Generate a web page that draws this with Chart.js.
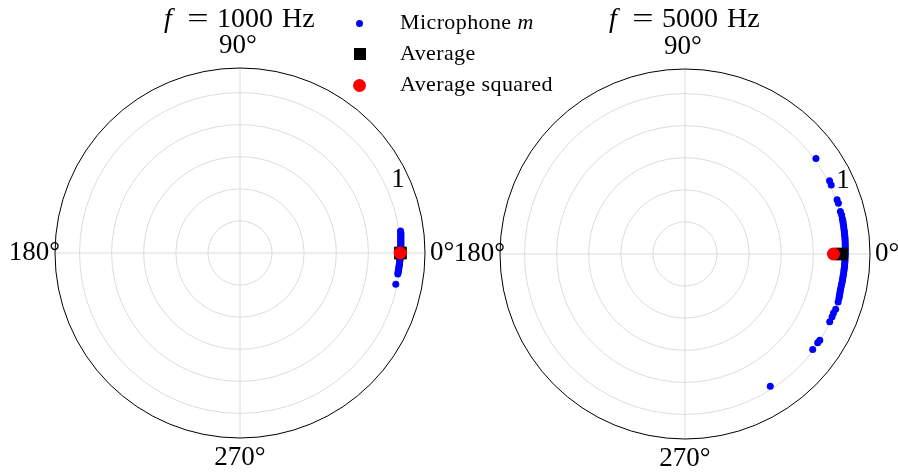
<!DOCTYPE html>
<html lang="en">
<head>
    <meta charset="UTF-8">
    <title>Microphone directivity, polar</title>
    <script src="https://cdn.jsdelivr.net/npm/chart.js@4.4.1/dist/chart.umd.min.js"></script>
    <style>
        body { margin: 0; background: #fff; }
        .fig { position: relative; width: 898px; height: 475px; overflow: hidden; font-family: "Liberation Serif", serif; }
        canvas { position: absolute; top: 0; }
        #left { left: 0; }
        #right { left: 440px; }
        .legend-marker { position: absolute; }
        .legend-text { position: absolute; left: 400px; font-size: 22px; line-height: 22px; letter-spacing: 0.4px; color: #000; white-space: nowrap; }
    </style>
</head>
<body>
<div class="fig">
    <canvas id="left" width="470" height="475"></canvas>
    <canvas id="right" width="458" height="475"></canvas>

    <div class="legend-marker" style="left:356px;top:20px;width:7px;height:7px;border-radius:50%;background:#0000ff;"></div>
    <div class="legend-text" style="top:11px;">Microphone <i>m</i></div>
    <div class="legend-marker" style="left:354px;top:48px;width:12px;height:12px;background:#000;"></div>
    <div class="legend-text" style="top:42px;">Average</div>
    <div class="legend-marker" style="left:353px;top:79px;width:13px;height:13px;border-radius:50%;background:#ff0000;"></div>
    <div class="legend-text" style="top:73px;">Average squared</div>
</div>
<script>
    // frequencies of the two panels
    const FREQS = [1000, 5000];

    // microphone responses, angle in degrees and magnitude
    const MIC_1000_ANGLE = [7.8, 7.3, 6.8, 6.3, 5.8, 5.3, 4.8, 4.4, 3.9, 3.4, 3.0, 2.5, 2.0, 1.6, 1.1, 0.6, 0.2, -0.3, -0.8, -1.2,
        -1.7, -2.2, -2.6, -3.1, -3.6, -4.1, -4.5, -5.0, -5.5, -6.0, -6.5, -7.0, -7.6, -11.3];
    const MIC_1000_R = [1.01, 1.01, 1.01, 1.008, 1.008, 1.006, 1.006, 1.005, 1.005, 1.004, 1.004, 1.003, 1.003, 1.002, 1.002, 1.001, 1.0, 1.0, 0.999, 0.999,
        0.998, 0.998, 0.997, 0.997, 0.996, 0.996, 0.995, 0.995, 0.994, 0.994, 0.993, 0.993, 0.992, 0.99];

    const MIC_5000_ANGLE = [36.1, 26.9, 25.3, 19.6, 18.3, 15.3, 14.0, 12.6, 11.7, 10.9, 10.1, 9.3, 8.5, 7.8, 7.0, 6.3, 5.5, 4.8, 4.0, 3.3,
        2.6, 1.8, 1.1, 0.4, -0.4, -1.1, -1.8, -2.6, -3.3, -4.0, -4.8, -5.5, -6.2, -7.0, -7.7, -8.5, -9.2, -10.0, -10.7, -11.5,
        -12.3, -13.0, -13.8, -14.5, -15.2, -16.0, -17.4, -20.1, -21.7, -23.1, -25.1, -32.6, -33.8, -36.8, -57.2];
    const MIC_5000_R = [1.01, 1.01, 1.008, 1.006, 1.007, 1.004, 1.006, 1.005, 1.005, 1.004, 1.004, 1.003, 1.003, 1.003, 1.002, 1.002, 1.002, 1.001, 1.001, 1.0,
        1.0, 1.0, 0.999, 0.999, 0.999, 0.998, 0.998, 0.998, 0.997, 0.997, 0.997, 0.996, 0.996, 0.996, 0.995, 0.995, 0.995, 0.995, 0.994, 0.994,
        0.994, 0.994, 0.995, 0.996, 0.997, 0.998, 1.0, 1.0, 0.996, 0.997, 0.996, 0.997, 0.995, 0.994, 0.981];

    // averages per panel (both at 0 deg)
    const AVG_ANGLE = [0, 0];
    const AVG_R = [1.0, 0.975];
    const AVG_SQ_R = [0.998, 0.925];

    // polar axes
    const R_MAX = 1.153;
    const RING_TICKS = [0.2, 0.4, 0.6, 0.8, 1.0];
    const RING_LABELS = ['', '', '', '', '1'];
    const THETA_TICKS = [0, 90, 180, 270];
    const THETA_LABELS = ['0°', '90°', '180°', '270°'];

    const FONT = '"Liberation Serif", serif';

    function toXY(angles, radii) {
        return angles.map((a, i) => ({
            x: radii[i] * Math.cos(a * Math.PI / 180),
            y: radii[i] * Math.sin(a * Math.PI / 180)
        }));
    }

    const polarPlugin = {
        id: 'polarGrid',
        beforeDatasetsDraw(chart) {
            const ctx = chart.ctx;
            const xs = chart.scales.x, ys = chart.scales.y;
            const cx = xs.getPixelForValue(0), cy = ys.getPixelForValue(0);
            const R = xs.getPixelForValue(R_MAX) - cx;
            ctx.save();
            ctx.strokeStyle = '#dcdcdc';
            ctx.lineWidth = 1;
            RING_TICKS.forEach(r => {
                const pr = xs.getPixelForValue(r) - cx;
                ctx.beginPath();
                ctx.arc(cx, cy, pr, 0, Math.PI * 2);
                ctx.stroke();
            });
            THETA_TICKS.forEach(t => {
                const a = t * Math.PI / 180;
                ctx.beginPath();
                ctx.moveTo(cx, cy);
                ctx.lineTo(cx + R * Math.cos(a), cy - R * Math.sin(a));
                ctx.stroke();
            });
            ctx.strokeStyle = '#000';
            ctx.beginPath();
            ctx.arc(cx, cy, R, 0, Math.PI * 2);
            ctx.stroke();
            ctx.restore();
        },
        afterDraw(chart, args, opts) {
            const ctx = chart.ctx;
            const xs = chart.scales.x, ys = chart.scales.y;
            const cx = xs.getPixelForValue(0), cy = ys.getPixelForValue(0);
            const R = xs.getPixelForValue(R_MAX) - cx;
            ctx.save();
            ctx.fillStyle = '#000';
            ctx.font = '27px ' + FONT;
            ctx.textBaseline = 'middle';

            // theta labels
            ctx.textAlign = 'left';
            ctx.fillText(THETA_LABELS[0], cx + R + 5, cy);
            ctx.textAlign = 'center';
            ctx.fillText(THETA_LABELS[1], cx - 2, cy - R - 22);
            ctx.textAlign = 'right';
            ctx.fillText(THETA_LABELS[2], cx - R + 5, cy);
            ctx.textAlign = 'center';
            ctx.fillText(THETA_LABELS[3], cx, cy + R + 20);

            // radial label at 22.5 deg
            RING_TICKS.forEach((r, i) => {
                if (!RING_LABELS[i]) return;
                const pr = xs.getPixelForValue(r) - cx;
                const a = 22.5 * Math.PI / 180;
                ctx.textAlign = 'left';
                ctx.textBaseline = 'bottom';
                ctx.fillText(RING_LABELS[i], cx + pr * Math.cos(a) + 3, cy - pr * Math.sin(a) + 2);
            });

            // title  "f = 1000 Hz", spaced like math text
            ctx.textBaseline = 'alphabetic';
            ctx.textAlign = 'left';
            const base = 27;
            ctx.font = 'italic 28px ' + FONT;
            ctx.fillText('f', cx - 76, base);
            ctx.font = '28px ' + FONT;
            ctx.save();
            ctx.translate(cx - 42, base);
            ctx.scale(1.35, 1);
            ctx.textAlign = 'center';
            ctx.fillText('=', 0, 0);
            ctx.restore();
            ctx.fillText(String(opts.freq), cx - 23, base);
            ctx.fillText('Hz', cx + 42, base);
            ctx.restore();
        }
    };

    function makePolar(canvasId, idx, micAngles, micR, padding) {
        const ctx = document.getElementById(canvasId).getContext('2d');
        return new Chart(ctx, {
            type: 'scatter',
            data: {
                datasets: [
                    {
                        label: 'Average squared',
                        data: toXY([AVG_ANGLE[idx]], [AVG_SQ_R[idx]]),
                        backgroundColor: '#ff0000',
                        borderWidth: 0,
                        pointRadius: 6.5,
                        pointStyle: 'circle',
                        order: 0
                    },
                    {
                        label: 'Average',
                        data: toXY([AVG_ANGLE[idx]], [AVG_R[idx]]),
                        backgroundColor: '#000000',
                        borderWidth: 0,
                        pointRadius: 9,
                        pointStyle: 'rect',
                        order: 1
                    },
                    {
                        label: 'Microphone m',
                        data: toXY(micAngles, micR),
                        backgroundColor: '#0000ff',
                        borderWidth: 0,
                        pointRadius: 3.5,
                        order: 2
                    }
                ]
            },
            options: {
                responsive: false,
                animation: false,
                events: [],
                clip: false,
                layout: { padding: padding },
                scales: {
                    x: { type: 'linear', min: -R_MAX, max: R_MAX, display: false },
                    y: { type: 'linear', min: -R_MAX, max: R_MAX, display: false }
                },
                plugins: {
                    legend: { display: false },
                    tooltip: { enabled: false },
                    polarGrid: { freq: FREQS[idx] }
                }
            },
            plugins: [polarPlugin]
        });
    }

    makePolar('left', 0, MIC_1000_ANGLE, MIC_1000_R, { left: 55, right: 45, top: 68, bottom: 37 });
    makePolar('right', 1, MIC_5000_ANGLE, MIC_5000_R, { left: 60, right: 28, top: 69, bottom: 36 });
</script>
</body>
</html>
